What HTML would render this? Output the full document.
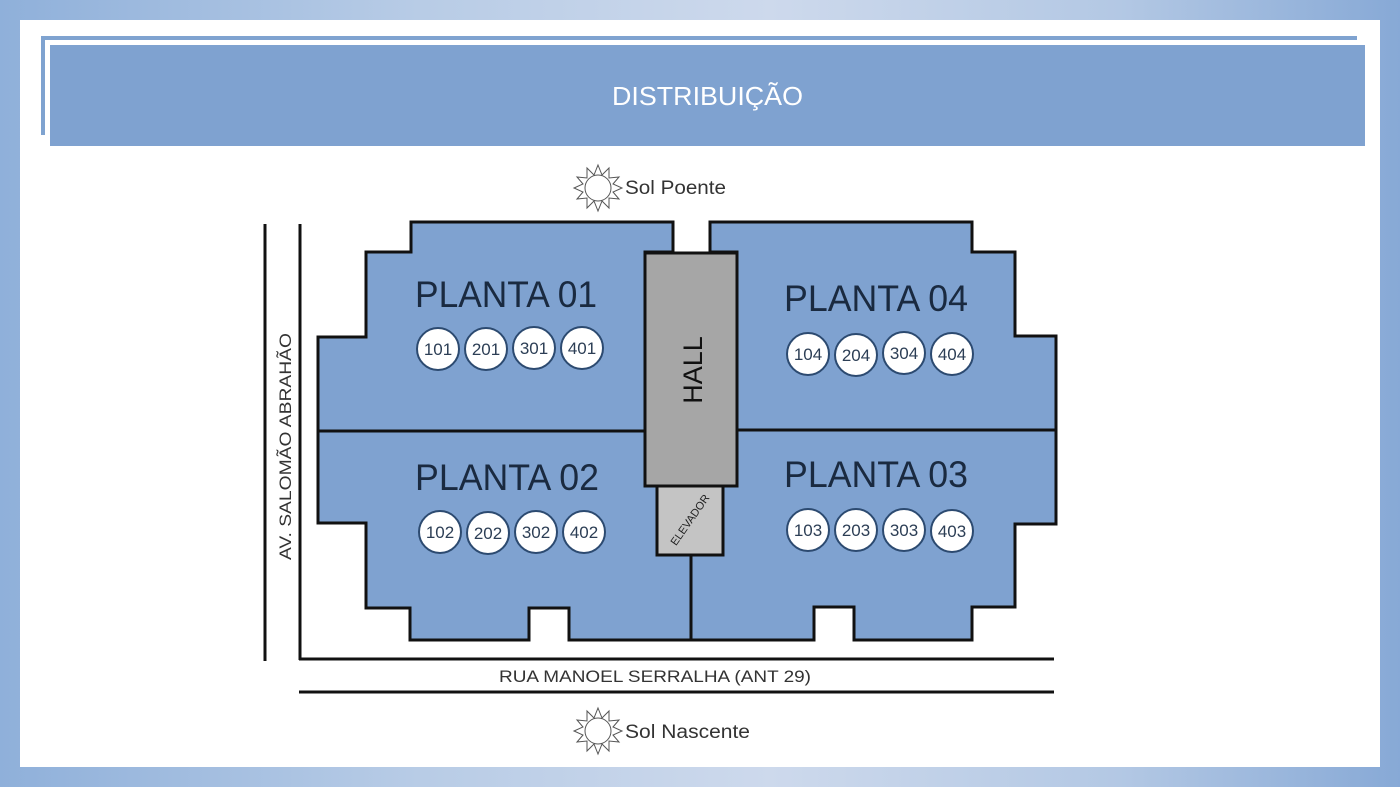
<!DOCTYPE html>
<html><head><meta charset="utf-8"><style>
html,body{margin:0;padding:0}
body{width:1400px;height:787px;overflow:hidden;background:linear-gradient(90deg,#8fb0da 0%,#b8cce6 30%,#cdd9ec 55%,#b3c8e4 80%,#87a9d6 100%);font-family:"Liberation Sans",sans-serif}
</style></head><body>
<svg width="1400" height="787" viewBox="0 0 1400 787" xmlns="http://www.w3.org/2000/svg" style="position:absolute;left:0;top:0">
<rect x="20" y="20" width="1360" height="747" fill="#fff"/>
<path d="M43 135 V38 H1357" fill="none" stroke="#7fa3d0" stroke-width="4"/>
<rect x="50" y="45" width="1315" height="101" fill="#7fa2d0"/>
<text x="612" y="105" font-size="26" fill="#fff" textLength="191" lengthAdjust="spacingAndGlyphs">DISTRIBUIÇÃO</text>
<g fill="#7fa2d0" stroke="#111" stroke-width="3" stroke-linejoin="miter">
<path d="M411 222 H673 V252 H645 V486 H657 V555 H691 V640 H569 V608 H529 V640 H410 V608 H366 V523 H318 V337 H366 V252 H411 Z"/>
<path d="M710 222 H972 V252 H1015 V336 H1056 V524 H1015 V607 H972 V640 H854 V607 H814 V640 H691 V555 H723 V486 H737 V252 H710 Z"/>
</g>
<g stroke="#111" stroke-width="3">
<line x1="318" y1="431" x2="645" y2="431"/>
<line x1="737" y1="430" x2="1056" y2="430"/>
</g>
<rect x="645" y="253" width="92" height="233" fill="#a6a6a6" stroke="#111" stroke-width="3"/>
<rect x="657" y="486" width="66" height="69" fill="#c4c4c4" stroke="#111" stroke-width="3"/>
<text transform="translate(702,370) rotate(-90)" font-size="27" fill="#111" text-anchor="middle">HALL</text>
<text transform="translate(693,522) rotate(-55)" font-size="11" fill="#222" text-anchor="middle">ELEVADOR</text>
<g font-size="37" fill="#1a2a40" lengthAdjust="spacingAndGlyphs">
<text x="415" y="307" textLength="182" lengthAdjust="spacingAndGlyphs">PLANTA 01</text>
<text x="415" y="490" textLength="184" lengthAdjust="spacingAndGlyphs">PLANTA 02</text>
<text x="784" y="311" textLength="184" lengthAdjust="spacingAndGlyphs">PLANTA 04</text>
<text x="784" y="487" textLength="184" lengthAdjust="spacingAndGlyphs">PLANTA 03</text>
</g>
<g fill="#fff" stroke="#2c4a70" stroke-width="2">
<circle cx="438" cy="349" r="21"/><circle cx="486" cy="349" r="21"/><circle cx="534" cy="348" r="21"/><circle cx="582" cy="348" r="21"/>
<circle cx="440" cy="532" r="21"/><circle cx="488" cy="533" r="21"/><circle cx="536" cy="532" r="21"/><circle cx="584" cy="532" r="21"/>
<circle cx="808" cy="354" r="21"/><circle cx="856" cy="355" r="21"/><circle cx="904" cy="353" r="21"/><circle cx="952" cy="354" r="21"/>
<circle cx="808" cy="530" r="21"/><circle cx="856" cy="530" r="21"/><circle cx="904" cy="530" r="21"/><circle cx="952" cy="531" r="21"/>
</g>
<g font-size="17" fill="#2c3e55" text-anchor="middle">
<text x="438" y="355">101</text><text x="486" y="355">201</text><text x="534" y="354">301</text><text x="582" y="354">401</text>
<text x="440" y="538">102</text><text x="488" y="539">202</text><text x="536" y="538">302</text><text x="584" y="538">402</text>
<text x="808" y="360">104</text><text x="856" y="361">204</text><text x="904" y="359">304</text><text x="952" y="360">404</text>
<text x="808" y="536">103</text><text x="856" y="536">203</text><text x="904" y="536">303</text><text x="952" y="537">403</text>
</g>
<g stroke="#111" stroke-width="3">
<line x1="265" y1="224" x2="265" y2="661"/>
<line x1="300" y1="224" x2="300" y2="660"/>
<line x1="299" y1="659" x2="1054" y2="659"/>
<line x1="299" y1="692" x2="1054" y2="692"/>
</g>
<text transform="translate(291,560) rotate(-90)" font-size="17" fill="#333" textLength="227" lengthAdjust="spacingAndGlyphs">AV. SALOMÃO ABRAHÃO</text>
<text x="499" y="682" font-size="17" fill="#333" textLength="312" lengthAdjust="spacingAndGlyphs">RUA MANOEL SERRALHA (ANT 29)</text>
<g fill="none" stroke="#555" stroke-width="1">
<circle cx="598" cy="188" r="13"/>
<polygon points="598,165 602,175 609,168 609,178 619,177 613,184 622,188 613,192 619,199 609,198 609,208 602,201 598,211 594,201 587,208 587,198 577,199 583,192 574,188 583,184 577,177 587,178 587,168 594,175"/>
<circle cx="598" cy="731" r="13"/>
<polygon points="598,708 602,718 609,711 609,721 619,720 613,727 622,731 613,735 619,742 609,741 609,751 602,744 598,754 594,744 587,751 587,741 577,742 583,735 574,731 583,727 577,720 587,721 587,711 594,718"/>
</g>
<text x="625" y="194" font-size="19" fill="#333" textLength="101" lengthAdjust="spacingAndGlyphs">Sol Poente</text>
<text x="625" y="738" font-size="19" fill="#333" textLength="125" lengthAdjust="spacingAndGlyphs">Sol Nascente</text>
</svg>
</body></html>
